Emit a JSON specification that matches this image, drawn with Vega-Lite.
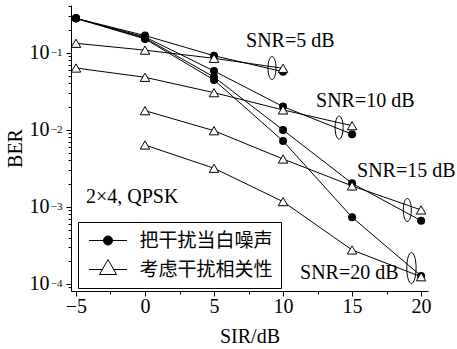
{
 "$schema": "https://vega.github.io/schema/vega-lite/v6.json",
 "width": 357, "height": 286,
 "autosize": {"type": "none"},
 "padding": {"left": 71, "top": 5, "right": 29, "bottom": 58},
 "background": "white",
 "config": {
  "view": {"stroke": null},
  "font": "Liberation Serif",
  "style": {"guide-label": {"font": "Liberation Serif", "fontSize": 20, "fill": "black"}, "guide-title": {"font": "Liberation Serif", "fontSize": 20, "fontWeight": "normal", "fill": "black"}},
  "axis": {"domainColor": "black", "tickColor": "black", "labelColor": "black", "titleColor": "black", "labelFont": "Liberation Serif", "titleFont": "Liberation Serif", "labelFontSize": 20, "titleFontSize": 20, "titleFontWeight": "normal", "grid": false, "domainWidth": 1, "tickWidth": 1}
 },
 "datasets": {
  "curves": [
   {"method": "把干扰当白噪声", "snr": 5, "sir": -5, "ber": 0.279},
   {"method": "把干扰当白噪声", "snr": 5, "sir": 0, "ber": 0.167},
   {"method": "把干扰当白噪声", "snr": 5, "sir": 5, "ber": 0.0914},
   {"method": "把干扰当白噪声", "snr": 5, "sir": 10, "ber": 0.0567},
   {"method": "把干扰当白噪声", "snr": 10, "sir": -5, "ber": 0.279},
   {"method": "把干扰当白噪声", "snr": 10, "sir": 0, "ber": 0.160},
   {"method": "把干扰当白噪声", "snr": 10, "sir": 5, "ber": 0.0579},
   {"method": "把干扰当白噪声", "snr": 10, "sir": 10, "ber": 0.0200},
   {"method": "把干扰当白噪声", "snr": 10, "sir": 15, "ber": 0.00875},
   {"method": "把干扰当白噪声", "snr": 15, "sir": -5, "ber": 0.279},
   {"method": "把干扰当白噪声", "snr": 15, "sir": 0, "ber": 0.155},
   {"method": "把干扰当白噪声", "snr": 15, "sir": 5, "ber": 0.0484},
   {"method": "把干扰当白噪声", "snr": 15, "sir": 10, "ber": 0.00993},
   {"method": "把干扰当白噪声", "snr": 15, "sir": 15, "ber": 0.00202},
   {"method": "把干扰当白噪声", "snr": 15, "sir": 20, "ber": 0.000662},
   {"method": "把干扰当白噪声", "snr": 20, "sir": -5, "ber": 0.279},
   {"method": "把干扰当白噪声", "snr": 20, "sir": 0, "ber": 0.151},
   {"method": "把干扰当白噪声", "snr": 20, "sir": 5, "ber": 0.0443},
   {"method": "把干扰当白噪声", "snr": 20, "sir": 10, "ber": 0.00716},
   {"method": "把干扰当白噪声", "snr": 20, "sir": 15, "ber": 0.000733},
   {"method": "把干扰当白噪声", "snr": 20, "sir": 20, "ber": 0.000127},
   {"method": "考虑干扰相关性", "snr": 5, "sir": -5, "ber": 0.1325},
   {"method": "考虑干扰相关性", "snr": 5, "sir": 0, "ber": 0.108},
   {"method": "考虑干扰相关性", "snr": 5, "sir": 5, "ber": 0.0846},
   {"method": "考虑干扰相关性", "snr": 5, "sir": 10, "ber": 0.0628},
   {"method": "考虑干扰相关性", "snr": 10, "sir": -5, "ber": 0.0633},
   {"method": "考虑干扰相关性", "snr": 10, "sir": 0, "ber": 0.048},
   {"method": "考虑干扰相关性", "snr": 10, "sir": 5, "ber": 0.0303},
   {"method": "考虑干扰相关性", "snr": 10, "sir": 10, "ber": 0.0181},
   {"method": "考虑干扰相关性", "snr": 10, "sir": 15, "ber": 0.0113},
   {"method": "考虑干扰相关性", "snr": 15, "sir": 0, "ber": 0.0177},
   {"method": "考虑干扰相关性", "snr": 15, "sir": 5, "ber": 0.00973},
   {"method": "考虑干扰相关性", "snr": 15, "sir": 10, "ber": 0.00418},
   {"method": "考虑干扰相关性", "snr": 15, "sir": 15, "ber": 0.00187},
   {"method": "考虑干扰相关性", "snr": 15, "sir": 20, "ber": 0.000912},
   {"method": "考虑干扰相关性", "snr": 20, "sir": 0, "ber": 0.00635},
   {"method": "考虑干扰相关性", "snr": 20, "sir": 5, "ber": 0.00317},
   {"method": "考虑干扰相关性", "snr": 20, "sir": 10, "ber": 0.00117},
   {"method": "考虑干扰相关性", "snr": 20, "sir": 15, "ber": 0.000276},
   {"method": "考虑干扰相关性", "snr": 20, "sir": 20, "ber": 0.000124}
  ],
  "notes": [
   {"label": "SNR=5 dB", "sir": 7.32, "ber": 0.142},
   {"label": "SNR=10 dB", "sir": 12.39, "ber": 0.0236},
   {"label": "SNR=15 dB", "sir": 15.36, "ber": 0.00288},
   {"label": "SNR=20 dB", "sir": 11.23, "ber": 0.000137},
   {"label": "2×4, QPSK", "sir": -4.28, "ber": 0.00136}
  ],
  "ellipses": [
   {"snr": 5, "sir": 9.2, "ber": 0.0633},
   {"snr": 10, "sir": 14.06, "ber": 0.0107},
   {"snr": 15, "sir": 19.0, "ber": 0.000912},
   {"snr": 20, "sir": 19.3, "ber": 0.000161}
  ]
 },
 "layer": [
  {
   "data": {"name": "curves"},
   "mark": {"type": "line", "color": "black", "strokeWidth": 1},
   "encoding": {
    "x": {"field": "sir", "type": "quantitative", "scale": {"domain": [-5.36, 20.5], "nice": false, "zero": false},
          "axis": {"orient": "bottom", "values": [-5, 0, 5, 10, 15, 20], "tickSize": 5, "labelPadding": 0, "labelFlush": false, "labelFont": "Liberation Serif", "labelFontSize": 20, "title": "SIR/dB", "titlePadding": 10}},
    "y": {"field": "ber", "type": "quantitative", "scale": {"type": "log", "domain": [0.000081, 0.416], "nice": false},
          "axis": {"orient": "left", "values": [0.1, 0.01, 0.001, 0.0001], "tickSize": 5, "labelPadding": 17, "labelFont": "Liberation Serif", "labelFontSize": 20, "labelExpr": "'10'", "title": "BER", "titlePadding": 4}},
    "detail": [{"field": "method", "type": "nominal"}, {"field": "snr", "type": "nominal"}]
   }
  },
  {
   "data": {"name": "curves"},
   "transform": [{"filter": "datum.method == '把干扰当白噪声'"}],
   "mark": {"type": "point", "shape": "circle", "filled": true, "color": "black", "opacity": 1, "size": 64},
   "encoding": {
    "x": {"field": "sir", "type": "quantitative", "scale": {"domain": [-5.36, 20.5], "nice": false, "zero": false},
          "axis": {"orient": "bottom", "values": [-2.5, 2.5, 7.5, 12.5, 17.5], "tickSize": 3, "labels": false, "domain": false, "title": null}},
    "y": {"field": "ber", "type": "quantitative", "scale": {"type": "log", "domain": [0.000081, 0.416], "nice": false},
          "axis": {"orient": "left", "values": [0.00009, 0.0002, 0.0003, 0.0004, 0.0005, 0.0006, 0.0007, 0.0008, 0.0009, 0.002, 0.003, 0.004, 0.005, 0.006, 0.007, 0.008, 0.009, 0.02, 0.03, 0.04, 0.05, 0.06, 0.07, 0.08, 0.09, 0.2, 0.3, 0.4], "tickSize": 3, "labels": false, "domain": false, "title": null}}
   }
  },
  {
   "data": {"name": "curves"},
   "transform": [{"filter": "datum.method == '考虑干扰相关性'"}],
   "mark": {"type": "point", "shape": "triangle-up", "filled": true, "fill": "white", "stroke": "black", "strokeWidth": 1, "opacity": 1, "size": 90},
   "encoding": {
    "x": {"field": "sir", "type": "quantitative", "scale": {"domain": [-5.36, 20.5], "nice": false, "zero": false}, "axis": null},
    "y": {"field": "ber", "type": "quantitative", "scale": {"type": "log", "domain": [0.000081, 0.416], "nice": false},
          "axis": {"orient": "left", "values": [0.1, 0.01, 0.001, 0.0001], "ticks": false, "tickSize": 0, "domain": false, "labelPadding": 9, "labelFont": "Liberation Serif", "labelFontSize": 11, "labelDy": -9, "labelExpr": "'−' + round(-log(datum.value)/LN10)", "title": null}}
   }
  },
  {
   "data": {"name": "notes"},
   "mark": {"type": "text", "align": "left", "baseline": "middle", "font": "Liberation Serif", "fontSize": 20, "color": "black"},
   "encoding": {
    "x": {"field": "sir", "type": "quantitative", "scale": {"domain": [-5.36, 20.5], "nice": false, "zero": false}, "axis": null},
    "y": {"field": "ber", "type": "quantitative", "scale": {"type": "log", "domain": [0.000081, 0.416], "nice": false}, "axis": null},
    "text": {"field": "label"}
   }
  },
  {
   "data": {"name": "ellipses"},
   "transform": [{"filter": "datum.snr != 20"}],
   "mark": {"type": "point", "shape": "M0,-1A0.35,1 0 1,1 0,1A0.35,1 0 1,1 0,-1Z", "filled": false, "stroke": "black", "strokeWidth": 1, "opacity": 1, "size": 529},
   "encoding": {
    "x": {"field": "sir", "type": "quantitative", "scale": {"domain": [-5.36, 20.5], "nice": false, "zero": false}, "axis": null},
    "y": {"field": "ber", "type": "quantitative", "scale": {"type": "log", "domain": [0.000081, 0.416], "nice": false}, "axis": null}
   }
  },
  {
   "data": {"name": "ellipses"},
   "transform": [{"filter": "datum.snr == 20"}],
   "mark": {"type": "point", "shape": "M0,-1A0.3,1 0 1,1 0,1A0.3,1 0 1,1 0,-1Z", "filled": false, "stroke": "black", "strokeWidth": 1, "opacity": 1, "size": 961},
   "encoding": {
    "x": {"field": "sir", "type": "quantitative", "scale": {"domain": [-5.36, 20.5], "nice": false, "zero": false}, "axis": null},
    "y": {"field": "ber", "type": "quantitative", "scale": {"type": "log", "domain": [0.000081, 0.416], "nice": false}, "axis": null}
   }
  },
  {
   "data": {"name": "curves"},
   "transform": [{"filter": "false"}],
   "mark": {"type": "point", "filled": true, "stroke": "black", "strokeWidth": 1, "opacity": 1},
   "encoding": {
    "shape": {"field": "method", "type": "nominal",
      "scale": {"domain": ["把干扰当白噪声", "考虑干扰相关性"], "range": ["M-1.9,0H1.9M-0.45,0A0.45,0.45 0 1,1 0.45,0A0.45,0.45 0 1,1 -0.45,0Z", "M-1.9,0H-0.57M0.57,0H1.9M0,-1L0.85,0.5L-0.85,0.5Z"]},
      "legend": {"orient": "none", "legendX": 7, "legendY": 217, "title": null, "padding": 8, "strokeColor": "black", "symbolSize": 400, "symbolOffset": 11.5, "symbolStrokeWidth": 1, "symbolStrokeColor": "black", "symbolOpacity": 1, "labelFont": "Noto Sans CJK SC", "labelFontSize": 19, "labelColor": "black", "labelOffset": 21, "rowPadding": 6,
        "encode": {"symbols": {"update": {"stroke": {"value": "black"}, "strokeWidth": {"value": 1}, "opacity": {"value": 1}}}}}},
    "fill": {"field": "method", "type": "nominal",
      "scale": {"domain": ["把干扰当白噪声", "考虑干扰相关性"], "range": ["black", "white"]},
      "legend": {"orient": "none", "legendX": 7, "legendY": 217, "title": null, "padding": 8, "strokeColor": "black", "symbolSize": 400, "symbolOffset": 11.5, "symbolStrokeWidth": 1, "symbolStrokeColor": "black", "symbolOpacity": 1, "labelFont": "Noto Sans CJK SC", "labelFontSize": 19, "labelColor": "black", "labelOffset": 21, "rowPadding": 6,
        "encode": {"symbols": {"update": {"stroke": {"value": "black"}, "strokeWidth": {"value": 1}, "opacity": {"value": 1}}}}}}
   }
  }
 ],
 "resolve": {"axis": {"x": "independent", "y": "independent"}}
}
